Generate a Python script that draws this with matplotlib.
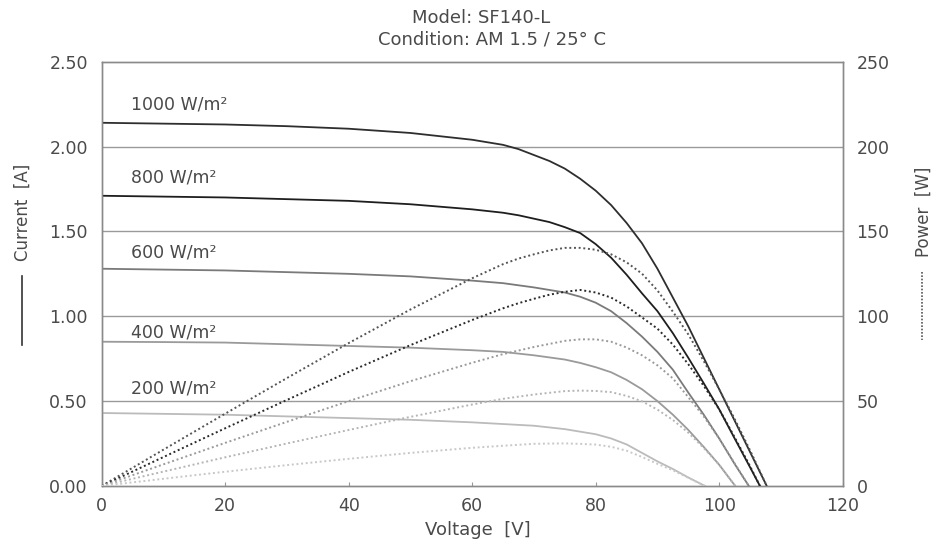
import matplotlib.pyplot as plt
from matplotlib.lines import Line2D

# ~~~ data ~~~
# voltage samples [V], current [A] and power [W] per irradiance
v_1000 = [0, 10, 20, 30, 40, 50, 60, 65, 67.5, 70, 72.5, 75, 77.5, 80, 82.5, 85, 87.5, 90,
          92.5, 95, 97.5, 100, 102.5, 105, 107.7]
i_1000 = [2.14, 2.135, 2.13, 2.12, 2.105, 2.08, 2.04, 2.01, 1.985, 1.95, 1.915, 1.87, 1.81, 1.74,
          1.655, 1.55, 1.43, 1.28, 1.11, 0.94, 0.755, 0.57, 0.385, 0.2, 0]
p_1000 = [0, 21.4, 42.6, 63.6, 84.2, 104, 122.4, 130.7, 134.0, 136.5, 138.8, 140.3, 140.3, 139.2,
          136.5, 131.8, 125.1, 115.2, 102.7, 89.3, 73.6, 57, 39.5, 21, 0]

v_800 = [0, 10, 20, 30, 40, 50, 60, 65, 67.5, 70, 72.5, 75, 77.5, 80, 82.5, 85, 87.5, 90,
         92.5, 95, 97.5, 100, 102.5, 105, 106.6]
i_800 = [1.71, 1.705, 1.70, 1.69, 1.68, 1.66, 1.63, 1.61, 1.595, 1.575, 1.555, 1.525, 1.49, 1.425,
         1.345, 1.245, 1.135, 1.03, 0.90, 0.755, 0.605, 0.452, 0.28, 0.11, 0]
p_800 = [0, 17.05, 34, 50.7, 67.2, 83, 97.8, 104.7, 107.7, 110.3, 112.7, 114.4, 115.5, 114,
         111.0, 105.8, 99.3, 92.7, 83.3, 71.7, 59.0, 45.2, 28.7, 11.6, 0]

v_600 = [0, 10, 20, 30, 40, 50, 60, 65, 70, 72.5, 75, 77.5, 80, 82.5, 85, 87.5, 90,
         92.5, 95, 97.5, 100, 102.5, 104.8]
i_600 = [1.28, 1.275, 1.27, 1.26, 1.25, 1.235, 1.21, 1.195, 1.17, 1.155, 1.14, 1.115, 1.08, 1.03,
         0.96, 0.88, 0.79, 0.685, 0.55, 0.42, 0.28, 0.13, 0]
p_600 = [0, 12.75, 25.4, 37.8, 50, 61.75, 72.6, 77.7, 81.9, 83.7, 85.5, 86.4, 86.4, 85.0,
         81.6, 77, 71.1, 63.4, 52.3, 41.0, 28, 13.3, 0]

v_400 = [0, 10, 20, 30, 40, 50, 60, 65, 70, 75, 77.5, 80, 82.5, 85, 87.5, 90,
         92.5, 95, 97.5, 100, 102.6]
i_400 = [0.85, 0.848, 0.845, 0.835, 0.825, 0.815, 0.80, 0.79, 0.77, 0.745, 0.725, 0.70, 0.67,
         0.625, 0.57, 0.50, 0.42, 0.33, 0.23, 0.125, 0]
p_400 = [0, 8.48, 16.9, 25.05, 33, 40.75, 48, 51.35, 53.9, 55.9, 56.2, 56, 55.3, 53.1, 49.9, 45,
         38.9, 31.4, 22.4, 12.5, 0]

v_200 = [0, 10, 20, 30, 40, 50, 60, 65, 70, 75, 77.5, 80, 82.5, 85, 87.5, 90, 92.5, 95, 97.7]
i_200 = [0.43, 0.425, 0.42, 0.41, 0.40, 0.39, 0.375, 0.365, 0.355, 0.335, 0.32, 0.305, 0.28,
         0.245, 0.195, 0.145, 0.10, 0.05, 0]
p_200 = [0, 4.25, 8.4, 12.3, 16, 19.5, 22.5, 23.7, 24.85, 25.1, 24.8, 24.4, 23.1, 20.8, 17.1,
         13.05, 9.25, 4.75, 0]

labels = ['1000 W/m²', '800 W/m²', '600 W/m²', '400 W/m²', '200 W/m²']
label_y = [2.245, 1.82, 1.373, 0.907, 0.577]

curves = [(v_1000, i_1000, p_1000), (v_800, i_800, p_800), (v_600, i_600, p_600),
          (v_400, i_400, p_400), (v_200, i_200, p_200)]

cur_colors = ['#2e2e2e', '#1e1e1e', '#7a7a7a', '#9a9a9a', '#bbbbbb']
pow_colors = ['#555555', '#2a2a2a', '#9a9a9a', '#b5b5b5', '#c8c8c8']

plt.rcParams['font.family'] = ['DejaVu Sans']
txt = '#4a4a4a'

fig = plt.figure(figsize=(9.38, 5.43), dpi=100)
ax = fig.add_axes([0.1084, 0.105, 0.790, 0.7814])
ax2 = ax.twinx()

for k, (v, cur, pw) in enumerate(curves):
    ax.plot(v, cur, '-', color=cur_colors[k], lw=1.3, zorder=3)
    ax2.plot(v, pw, color=pow_colors[k], lw=1.4, linestyle=(0, (1, 1.4)), zorder=3)
    ax.text(4.75, label_y[k], labels[k], fontsize=12.5, color=txt, va='center', ha='left')

ax.set_xlim(0, 120)
ax.set_ylim(0, 2.5)
ax2.set_ylim(0, 250)

ax.set_xticks([0, 20, 40, 60, 80, 100, 120])
ax.set_yticks([0, 0.5, 1.0, 1.5, 2.0, 2.5])
ax.set_yticklabels(['0.00', '0.50', '1.00', '1.50', '2.00', '2.50'])
ax2.set_yticks([0, 50, 100, 150, 200, 250])

for y in [0.5, 1.0, 1.5, 2.0]:
    ax.axhline(y, color='#9a9a9a', lw=1.0, zorder=1)

ax.tick_params(axis='x', direction='in', length=3, color='#999999', labelsize=12.5,
               labelcolor=txt, pad=8)
ax.tick_params(axis='y', length=0, labelsize=12.5, labelcolor=txt, pad=10)
ax2.tick_params(axis='y', length=0, labelsize=12.5, labelcolor=txt, pad=10)

for a in (ax, ax2):
    for s in a.spines.values():
        s.set_color('#8a8a8a')
        s.set_linewidth(1.0)

# titles and axis labels
fig.text(481 / 938, 1 - 18 / 543, 'Model: SF140-L', ha='center', va='center',
         fontsize=13, color=txt)
fig.text(492 / 938, 1 - 40 / 543, 'Condition: AM 1.5 / 25° C', ha='center', va='center',
         fontsize=13, color=txt)
fig.text(478 / 938, 1 - 530 / 543, 'Voltage  [V]', ha='center', va='center',
         fontsize=13, color=txt)

fig.text(23 / 938, 1 - 212 / 543, 'Current  [A]', rotation=90, ha='center', va='center',
         fontsize=12, color=txt)
fig.add_artist(Line2D([22 / 938, 22 / 938], [1 - 276 / 543, 1 - 345 / 543],
                      color='#333333', lw=1.2, transform=fig.transFigure))

fig.text(924 / 938, 1 - 212 / 543, 'Power  [W]', rotation=90, ha='center', va='center',
         fontsize=12, color=txt)
fig.add_artist(Line2D([922 / 938, 922 / 938], [1 - 272 / 543, 1 - 340 / 543],
                      color='#555555', lw=1.2, linestyle=(0, (1, 1)),
                      transform=fig.transFigure))

fig.savefig('out.png', dpi=100)
